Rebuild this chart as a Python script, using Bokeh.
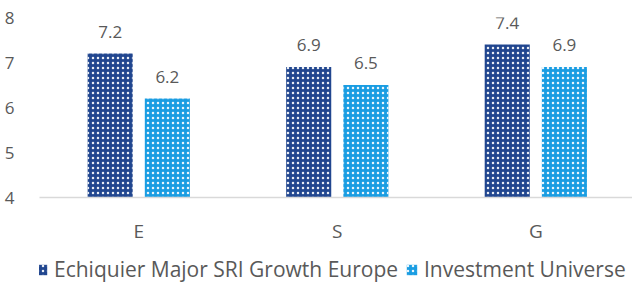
from bokeh.plotting import figure
from bokeh.models import ColumnDataSource, Range1d, FixedTicker, Legend, LegendItem, LabelSet
from bokeh.layouts import column
from bokeh.core.properties import value
from bokeh.embed import file_html
from bokeh.resources import INLINE

categories = ["E", "S", "G"]
fund_values = [7.2, 6.9, 7.4]
universe_values = [6.2, 6.5, 6.9]
series_names = ["Echiquier Major SRI Growth Europe", "Investment Universe"]
y_ticks = [4, 5, 6, 7, 8]

FONT = "Open Sans"
TXT = "#595959"
DARK = "#21468f"
LIGHT = "#1a9de2"
HATCH = dict(hatch_pattern="dot", hatch_color="white", hatch_scale=5, hatch_weight=2.5, hatch_alpha=0.9)

xpos = [i + 0.5 for i in range(len(categories))]
off = 0.144
bw = 0.227

src = ColumnDataSource(dict(
    x1=[x - off for x in xpos], x2=[x + off for x in xpos],
    v1=fund_values, v2=universe_values,
    l1=[f"{v:.1f}" for v in fund_values], l2=[f"{v:.1f}" for v in universe_values],
))

p = figure(width=632, height=252, output_backend="svg", toolbar_location=None,
           x_range=Range1d(0, 2.987), y_range=Range1d(4, 8),
           min_border_left=39, min_border_top=17, min_border_right=0, min_border_bottom=55)
p.outline_line_color = None
p.grid.visible = False

r1 = p.vbar(x="x1", top="v1", bottom=4, width=bw, source=src, fill_color=DARK, line_color=None, **HATCH)
r2 = p.vbar(x="x2", top="v2", bottom=4, width=bw, source=src, fill_color=LIGHT, line_color=None, **HATCH)

for xc, yc, lc in (("x1", "v1", "l1"), ("x2", "v2", "l2")):
    p.add_layout(LabelSet(x=xc, y=yc, text=lc, source=src, text_align="center",
                          text_baseline="bottom", y_offset=16, text_font=value(FONT),
                          text_font_size="17px", text_color=TXT))

p.yaxis.ticker = FixedTicker(ticks=y_ticks)
p.yaxis.axis_line_color = None
p.yaxis.major_tick_line_color = None
p.yaxis.minor_tick_line_color = None
p.yaxis.major_label_standoff = 19
p.yaxis.major_label_text_font = FONT
p.yaxis.major_label_text_font_size = "17px"
p.yaxis.major_label_text_color = TXT

p.xaxis.ticker = FixedTicker(ticks=xpos)
p.xaxis.major_label_overrides = {x: c for x, c in zip(xpos, categories)}
p.xaxis.axis_line_color = "#d9d9d9"
p.xaxis.axis_line_width = 1.5
p.xaxis.major_tick_line_color = None
p.xaxis.minor_tick_line_color = None
p.xaxis.major_label_standoff = 14
p.xaxis.major_label_text_font = FONT
p.xaxis.major_label_text_font_size = "19px"
p.xaxis.major_label_text_color = TXT

# legend strip below the chart (its frame is aligned with the chart's frame at x=39)
p2 = figure(width=632, height=34, output_backend="svg", toolbar_location=None,
            x_range=Range1d(0, 1), y_range=Range1d(0, 1),
            x_axis_location=None, y_axis_location=None,
            min_border_left=0, min_border_top=0, min_border_right=0, min_border_bottom=0)
p2.grid.visible = False
p2.outline_line_color = None
e = ColumnDataSource(dict(x=[5], top=[5]))
g1 = p2.vbar(x="x", top="top", bottom=4, width=0.1, source=e, fill_color=DARK, line_color=None, **HATCH)
g2 = p2.vbar(x="x", top="top", bottom=4, width=0.1, source=e, fill_color=LIGHT, line_color=None, **HATCH)

LEG = dict(orientation="horizontal", glyph_width=13, glyph_height=13, label_text_font=FONT,
           label_text_font_size="21px", label_text_color=TXT, border_line_color=None,
           background_fill_alpha=0, spacing=0, label_standoff=6, padding=0, margin=0)
p2.add_layout(Legend(items=[LegendItem(label=series_names[0], renderers=[g1])],
                     location=(-4, 3), **LEG), "center")
p2.add_layout(Legend(items=[LegendItem(label=series_names[1], renderers=[g2])],
                     location=(366, 3), **LEG), "center")

open("out.html", "w").write(file_html(column(p, p2, spacing=0), INLINE))
